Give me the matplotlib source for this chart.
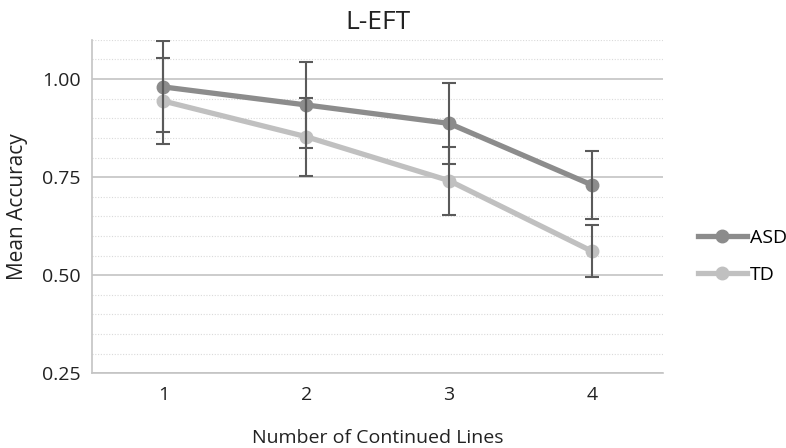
import matplotlib
matplotlib.use("Agg")
from matplotlib import pyplot as plt
from matplotlib.ticker import MultipleLocator

plt.rcParams["font.family"] = ["Open Sans", "DejaVu Sans"]

# data
lines = [1, 2, 3, 4]
asd_mean = [0.980, 0.934, 0.887, 0.730]
asd_err = [0.116, 0.110, 0.104, 0.086]
td_mean = [0.944, 0.853, 0.741, 0.561]
td_err = [0.110, 0.100, 0.087, 0.066]

fig = plt.figure(figsize=(7.86, 4.48), dpi=100)
ax = fig.add_axes([0.117, 0.167, 0.727, 0.744])

# grid
ax.yaxis.set_major_locator(MultipleLocator(0.25))
ax.yaxis.set_minor_locator(MultipleLocator(0.05))
ax.grid(which="major", axis="y", color="#c4c4c4", lw=1.2, ls="-")
ax.grid(which="minor", axis="y", color="#dadada", lw=0.8, ls=(0, (1, 1.5)))
ax.set_axisbelow(True)

ax.plot(lines, asd_mean, color="#8c8c8c", lw=3.8, marker="o", ms=9, label="ASD", zorder=3)
ax.plot(lines, td_mean, color="#c0c0c0", lw=3.8, marker="o", ms=9, label="TD", zorder=3)
ax.errorbar(lines, asd_mean, yerr=asd_err, fmt="none", ecolor="#5a5a5a", elinewidth=1.5, capsize=5, capthick=1.5, zorder=4)
ax.errorbar(lines, td_mean, yerr=td_err, fmt="none", ecolor="#5a5a5a", elinewidth=1.5, capsize=5, capthick=1.5, zorder=4)

ax.set_xlim(0.5, 4.5)
ax.set_ylim(0.25, 1.10)
ax.set_xticks(lines)
ax.set_yticks([0.25, 0.50, 0.75, 1.00])
ax.set_yticklabels(["0.25", "0.50", "0.75", "1.00"])
ax.tick_params(which="both", length=0, labelsize=14, colors="#222222", pad=8)
ax.tick_params(axis="x", pad=9)

for s in ["top", "right"]:
    ax.spines[s].set_visible(False)
for s in ["left", "bottom"]:
    ax.spines[s].set_color("#c4c4c4")
    ax.spines[s].set_linewidth(1.2)

ax.set_title("L-EFT", fontsize=19, color="#222222", pad=8)
ax.set_xlabel("Number of Continued Lines", fontsize=14, color="#222222", labelpad=18)
ax.set_ylabel("Mean Accuracy", fontsize=15, color="#222222", labelpad=10)

ax.legend(loc="center left", bbox_to_anchor=(1.03, 0.35), frameon=False, fontsize=14,
          handlelength=2.5, labelspacing=1.0, handletextpad=0.15)

fig.savefig("out.png", dpi=100)
